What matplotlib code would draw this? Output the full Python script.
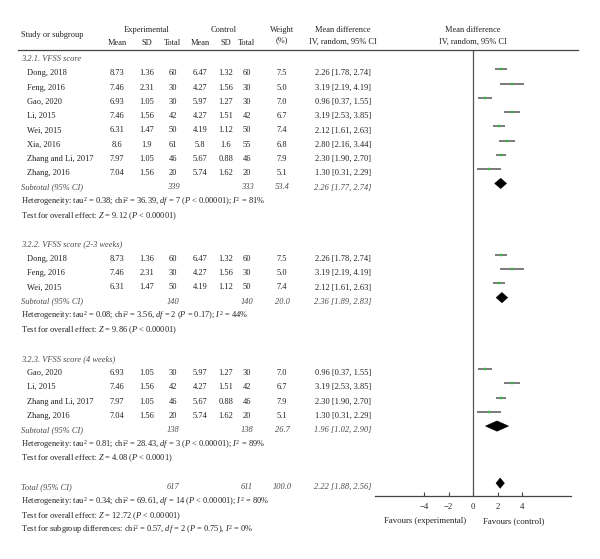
import matplotlib
matplotlib.use("Agg")
import matplotlib.pyplot as plt
import matplotlib.transforms as mtrans
from matplotlib.lines import Line2D

plt.rcParams['font.family'] = ['Liberation Serif', 'DejaVu Serif']
plt.rcParams['mathtext.fontset'] = 'custom'
plt.rcParams['mathtext.rm'] = 'Liberation Serif'
plt.rcParams['mathtext.it'] = 'Liberation Serif:italic'

# ---------------- data ----------------
sec1_title = "3.2.1. VFSS score"
sec1_names = ["Dong, 2018", "Feng, 2016", "Gao, 2020", "Li, 2015", "Wei, 2015",
              "Xia, 2016", "Zhang and Li, 2017", "Zhang, 2016"]
sec1_exp_mean = [8.73, 7.46, 6.93, 7.46, 6.31, 8.6, 7.97, 7.04]
sec1_exp_sd = [1.36, 2.31, 1.05, 1.56, 1.47, 1.9, 1.05, 1.56]
sec1_exp_n = [60, 30, 30, 42, 50, 61, 46, 20]
sec1_ctl_mean = [6.47, 4.27, 5.97, 4.27, 4.19, 5.8, 5.67, 5.74]
sec1_ctl_sd = [1.32, 1.56, 1.27, 1.51, 1.12, 1.6, 0.88, 1.62]
sec1_ctl_n = [60, 30, 30, 42, 50, 55, 46, 20]
sec1_weight = [7.5, 5.0, 7.0, 6.7, 7.4, 6.8, 7.9, 5.1]
sec1_md = [2.26, 3.19, 0.96, 3.19, 2.12, 2.80, 2.30, 1.30]
sec1_lo = [1.78, 2.19, 0.37, 2.53, 1.61, 2.16, 1.90, 0.31]
sec1_hi = [2.74, 4.19, 1.55, 3.85, 2.63, 3.44, 2.70, 2.29]
sec1_sub = [339, 333, 53.4, 2.26, 1.77, 2.74]
sec1_het = r"Heterogeneity: tau$^2$ = 0.38; chi$^2$ = 36.39, $df$ = 7 ($P$ < 0.00001); $I^2$ = 81%"
sec1_test = r"Test for overall effect: $Z$ = 9.12 ($P$ < 0.00001)"

sec2_title = "3.2.2. VFSS score (2-3 weeks)"
sec2_names = ["Dong, 2018", "Feng, 2016", "Wei, 2015"]
sec2_exp_mean = [8.73, 7.46, 6.31]
sec2_exp_sd = [1.36, 2.31, 1.47]
sec2_exp_n = [60, 30, 50]
sec2_ctl_mean = [6.47, 4.27, 4.19]
sec2_ctl_sd = [1.32, 1.56, 1.12]
sec2_ctl_n = [60, 30, 50]
sec2_weight = [7.5, 5.0, 7.4]
sec2_md = [2.26, 3.19, 2.12]
sec2_lo = [1.78, 2.19, 1.61]
sec2_hi = [2.74, 4.19, 2.63]
sec2_sub = [140, 140, 20.0, 2.36, 1.89, 2.83]
sec2_het = r"Heterogeneity: tau$^2$ = 0.08; chi$^2$ = 3.56, $df$ = 2 ($P$ = 0.17); $I^2$ = 44%"
sec2_test = r"Test for overall effect: $Z$ = 9.86 ($P$ < 0.00001)"

sec3_title = "3.2.3. VFSS score (4 weeks)"
sec3_names = ["Gao, 2020", "Li, 2015", "Zhang and Li, 2017", "Zhang, 2016"]
sec3_exp_mean = [6.93, 7.46, 7.97, 7.04]
sec3_exp_sd = [1.05, 1.56, 1.05, 1.56]
sec3_exp_n = [30, 42, 46, 20]
sec3_ctl_mean = [5.97, 4.27, 5.67, 5.74]
sec3_ctl_sd = [1.27, 1.51, 0.88, 1.62]
sec3_ctl_n = [30, 42, 46, 20]
sec3_weight = [7.0, 6.7, 7.9, 5.1]
sec3_md = [0.96, 3.19, 2.30, 1.30]
sec3_lo = [0.37, 2.53, 1.90, 0.31]
sec3_hi = [1.55, 3.85, 2.70, 2.29]
sec3_sub = [138, 138, 26.7, 1.96, 1.02, 2.90]
sec3_het = r"Heterogeneity: tau$^2$ = 0.81; chi$^2$ = 28.43, $df$ = 3 ($P$ < 0.00001); $I^2$ = 89%"
sec3_test = r"Test for overall effect: $Z$ = 4.08 ($P$ < 0.0001)"

total_vals = [617, 611, 100.0, 2.22, 1.88, 2.56]
total_het = r"Heterogeneity: tau$^2$ = 0.34; chi$^2$ = 69.61, $df$ = 14 ($P$ < 0.00001); $I^2$ = 80%"
total_test = r"Test for overall effect: $Z$ = 12.72 ($P$ < 0.00001)"
subgroup_test = r"Test for subgroup differences: chi$^2$ = 0.57, $df$ = 2 ($P$ = 0.75), $I^2$ = 0%"

x_ticks = [-4, -2, 0, 2, 4]
x_ticklabels = ["\u22124", "\u22122", "0", "2", "4"]

sections = [
    (sec1_title, sec1_names, sec1_exp_mean, sec1_exp_sd, sec1_exp_n, sec1_ctl_mean, sec1_ctl_sd,
     sec1_ctl_n, sec1_weight, sec1_md, sec1_lo, sec1_hi, sec1_sub, sec1_het, sec1_test),
    (sec2_title, sec2_names, sec2_exp_mean, sec2_exp_sd, sec2_exp_n, sec2_ctl_mean, sec2_ctl_sd,
     sec2_ctl_n, sec2_weight, sec2_md, sec2_lo, sec2_hi, sec2_sub, sec2_het, sec2_test),
    (sec3_title, sec3_names, sec3_exp_mean, sec3_exp_sd, sec3_exp_n, sec3_ctl_mean, sec3_ctl_sd,
     sec3_ctl_n, sec3_weight, sec3_md, sec3_lo, sec3_hi, sec3_sub, sec3_het, sec3_test),
]

# ---------------- layout ----------------
W, H = 600, 559
fig = plt.figure(figsize=(6, 5.59), dpi=100)

def fx(px):
    return px / W

def fy(py):
    return 1 - py / H

ax_left, ax_right, ax_top, ax_bottom = 375, 571, 50, 496
ax = fig.add_axes([fx(ax_left), fy(ax_bottom), (ax_right - ax_left) / W, (ax_bottom - ax_top) / H])
ax.set_xlim(-8, 8)
ax.set_ylim(30.9, -0.35)
ax.patch.set_alpha(0)
for s in ['top', 'left', 'right']:
    ax.spines[s].set_visible(False)
ax.spines['bottom'].set_color('#444444')
ax.spines['bottom'].set_linewidth(0.9)
ax.set_yticks([])
ax.set_xticks(x_ticks)
ax.set_xticklabels(x_ticklabels)
ax.tick_params(axis='x', direction='in', length=3, width=0.8, color='#444444',
               labelsize=6.3, pad=5, labelcolor='#222222')
ax.axvline(0, color='#555555', lw=0.9)

FS = 6.0
TXT = '#231f20'
GREY = '#4a4a4a'
trans = mtrans.blended_transform_factory(fig.transFigure, ax.transData)
TOFF = 0.28  # text baseline offset relative to mark row

# column centers (px)
c_name_hdr, c_name = 21, 27
c_em, c_esd, c_en = 117, 147, 173
c_cm, c_csd, c_cn = 200, 226, 247
c_w, c_md, c_plot = 282, 343, 473

# header
fig.text(fx(c_name_hdr), fy(35), "Study or subgroup", ha='left', va='center', fontsize=FS, color=TXT)
for txt, xc in [("Experimental", 147), ("Control", 224), ("Weight", c_w),
                ("Mean difference", c_md), ("Mean difference", c_plot)]:
    fig.text(fx(xc), fy(30), txt, ha='center', va='center', fontsize=FS, color=TXT)
for txt, xc in [("Mean", c_em), ("SD", c_esd), ("Total", c_en), ("Mean", c_cm), ("SD", c_csd), ("Total", c_cn)]:
    fig.text(fx(xc), fy(43), txt, ha='center', va='center', fontsize=FS, color=TXT)
fig.text(fx(c_w), fy(40), "(%)", ha='center', va='center', fontsize=FS, color=TXT)
fig.text(fx(c_md), fy(42), "IV, random, 95% CI", ha='center', va='center', fontsize=FS, color=TXT)
fig.text(fx(c_plot), fy(42), "IV, random, 95% CI", ha='center', va='center', fontsize=FS, color=TXT)
fig.add_artist(Line2D([fx(18), fx(578)], [fy(50), fy(50)], transform=fig.transFigure,
                      color='#444444', lw=0.9))

def put(xpx, row, s, ha='center', style='normal', color=TXT):
    ax.text(fx(xpx), row + TOFF, s, transform=trans, ha=ha, va='center', fontsize=FS,
            style=style, color=color)

def diamond(row, est, lo, hi, h=0.36):
    ax.fill([lo, est, hi, est], [row, row - h, row, row + h], color='black', lw=0.4, ec='black')

row = 0
for (title, names, em, esd, en, cm, csd, cn, wt, md, lo, hi, sub, het, test) in sections:
    put(c_name_hdr, row, title, ha='left', style='italic', color=GREY)
    row += 1
    for i in range(len(names)):
        put(c_name, row, names[i], ha='left')
        put(c_em, row, f"{em[i]:g}")
        put(c_esd, row, f"{esd[i]:g}")
        put(c_en, row, f"{en[i]}")
        put(c_cm, row, f"{cm[i]:g}")
        put(c_csd, row, f"{csd[i]:g}")
        put(c_cn, row, f"{cn[i]}")
        put(c_w, row, f"{wt[i]:.1f}")
        put(c_md, row, f"{md[i]:.2f} [{lo[i]:.2f}, {hi[i]:.2f}]")
        ax.plot([lo[i], hi[i]], [row, row], color='#555555', lw=1.1, solid_capstyle='butt')
        ax.plot(md[i], row, marker='s', ms=2.0, color='#3db54a', mec='#3db54a', mew=0.3)
        row += 1
    put(c_name_hdr, row, "Subtotal (95% CI)", ha='left', style='italic', color=GREY)
    put(c_en, row, f"{sub[0]}", style='italic', color=GREY)
    put(c_cn, row, f"{sub[1]}", style='italic', color=GREY)
    put(c_w, row, f"{sub[2]:.1f}", style='italic', color=GREY)
    put(c_md, row, f"{sub[3]:.2f} [{sub[4]:.2f}, {sub[5]:.2f}]", style='italic', color=GREY)
    diamond(row, sub[3], sub[4], sub[5])
    row += 1
    put(c_name_hdr, row, het, ha='left')
    row += 1
    put(c_name_hdr, row, test, ha='left')
    row += 2

put(c_name_hdr, row, "Total (95% CI)", ha='left', style='italic', color=GREY)
put(c_en, row, f"{total_vals[0]}", style='italic', color=GREY)
put(c_cn, row, f"{total_vals[1]}", style='italic', color=GREY)
put(c_w, row, f"{total_vals[2]:.1f}", style='italic', color=GREY)
put(c_md, row, f"{total_vals[3]:.2f} [{total_vals[4]:.2f}, {total_vals[5]:.2f}]", style='italic', color=GREY)
diamond(row, total_vals[3], total_vals[4], total_vals[5])
row += 1
put(c_name_hdr, row, total_het, ha='left')
row += 1
put(c_name_hdr, row, total_test, ha='left')
row += 1
put(c_name_hdr, row, subgroup_test, ha='left')

xt = mtrans.blended_transform_factory(ax.transData, fig.transFigure)
fig.text(-0.6, fy(521), "Favours (experimental)", transform=xt, ha='right', va='center', fontsize=6.3, color=TXT)
fig.text(0.8, fy(521), "Favours (control)", transform=xt, ha='left', va='center', fontsize=6.3, color=TXT)

fig.savefig("out.png", dpi=100, facecolor='white')
